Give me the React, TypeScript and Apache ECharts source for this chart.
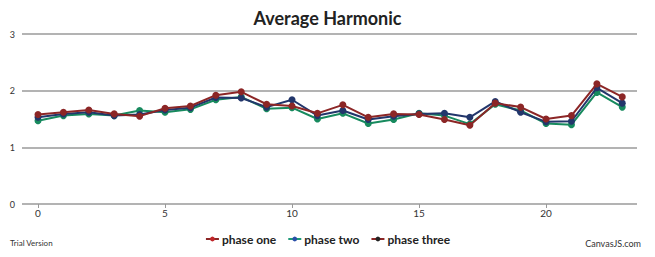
import React, { useEffect, useRef } from "react";
import * as echarts from "echarts";

const xValues = [0, 1, 2, 3, 4, 5, 6, 7, 8, 9, 10, 11, 12, 13, 14, 15, 16, 17, 18, 19, 20, 21, 22, 23];
const phaseOne = [1.58, 1.62, 1.66, 1.59, 1.55, 1.69, 1.73, 1.92, 1.98, 1.76, 1.73, 1.60, 1.75, 1.53, 1.59, 1.58, 1.49, 1.39, 1.78, 1.71, 1.50, 1.56, 2.12, 1.89];
const phaseTwo = [1.53, 1.59, 1.62, 1.56, 1.58, 1.66, 1.70, 1.88, 1.87, 1.71, 1.84, 1.56, 1.65, 1.49, 1.55, 1.59, 1.60, 1.53, 1.81, 1.62, 1.45, 1.46, 2.05, 1.78];
const phaseThree = [1.47, 1.56, 1.59, 1.56, 1.65, 1.62, 1.67, 1.84, 1.89, 1.68, 1.70, 1.50, 1.60, 1.42, 1.49, 1.60, 1.56, 1.41, 1.76, 1.65, 1.42, 1.40, 1.97, 1.71];
const seriesNames = ["phase one", "phase two", "phase three"];
const xTickLabels = [0, 5, 10, 15, 20];
const yTicks = [0, 1, 2, 3];

const FONT = 'Lato, "DejaVu Sans Condensed", sans-serif';

export default function App() {
  const ref = useRef<HTMLDivElement>(null);
  useEffect(() => {
    if (!ref.current) return;
    const chart = echarts.init(ref.current, undefined, { renderer: "svg" });
    const colors = ["#8c2626", "#22366b", "#178a5e"];
    const datasets = [phaseOne, phaseTwo, phaseThree];
    const zs = [4, 3, 2];
    chart.setOption({
      animation: false,
      title: {
        text: "Average Harmonic",
        left: "center",
        top: 4,
        textStyle: { fontFamily: FONT, fontSize: 18, fontWeight: "bold", color: "#222" },
      },
      grid: { left: 22, right: 18, top: 34, bottom: 53, containLabel: false },
      legend: {
        bottom: 7,
        left: "center",
        itemWidth: 13,
        itemHeight: 6,
        itemGap: 11,
        textStyle: { fontFamily: FONT, fontSize: 12, fontWeight: "bold", color: "#222", padding: [0, 0, 0, -2] },
        data: [
          { name: seriesNames[0], itemStyle: { color: "#c0262a" }, lineStyle: { color: "#8c2626", width: 2 } },
          { name: seriesNames[1], itemStyle: { color: "#2a4fa8" }, lineStyle: { color: "#1d9a78", width: 2 } },
          { name: seriesNames[2], itemStyle: { color: "#222222" }, lineStyle: { color: "#8c2626", width: 2 } },
        ],
      },
      xAxis: {
        type: "value",
        min: -0.63,
        max: 23.58,
        splitLine: { show: false },
        axisLine: { show: false },
        axisTick: { show: true, customValues: xTickLabels, length: 4, lineStyle: { color: "#999" } },
        axisLabel: {
          customValues: xTickLabels,
          fontFamily: FONT,
          fontSize: 10,
          color: "#333",
          margin: 4,
        },
      },
      yAxis: {
        type: "value",
        min: yTicks[0],
        max: yTicks[yTicks.length - 1],
        interval: 1,
        axisLine: { show: false },
        axisTick: { show: false },
        splitLine: { lineStyle: { color: "#9a9a9a", width: 1.5 } },
        axisLabel: { fontFamily: FONT, fontSize: 9, color: "#333", margin: 7 },
      },
      graphic: [
        { type: "text", left: 10, top: 239, style: { text: "Trial Version", fontFamily: FONT, fontSize: 8, fill: "#333" } },
        { type: "text", right: 14, top: 239, style: { text: "CanvasJS.com", fontFamily: FONT, fontSize: 9, fill: "#333" } },
      ],
      series: seriesNames.map((name, i) => ({
        name,
        type: "line",
        z: zs[i],
        data: xValues.map((x, j) => [x, datasets[i][j]]),
        symbol: "circle",
        symbolSize: 7,
        showSymbol: true,
        color: colors[i],
        lineStyle: { width: 2, color: colors[i] },
        itemStyle: { color: colors[i] },
      })),
    });
    return () => chart.dispose();
  }, []);
  return <div ref={ref} style={{ position: "absolute", left: 0, top: 0, width: 655, height: 257 }} />;
}
